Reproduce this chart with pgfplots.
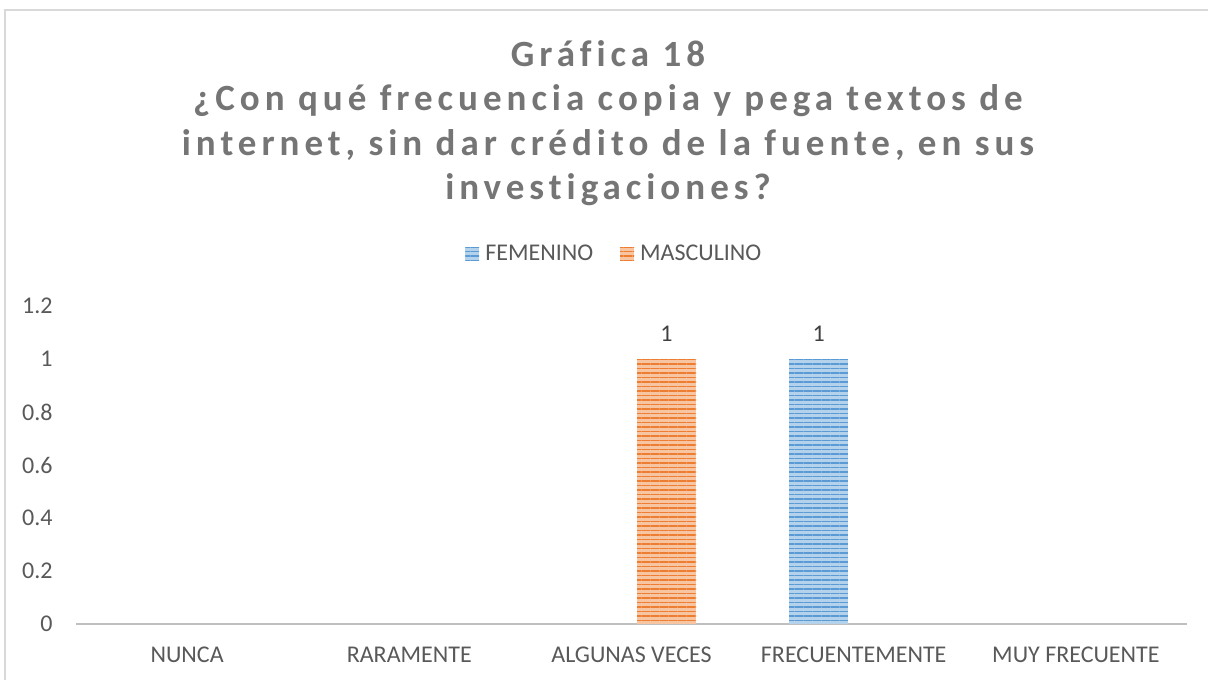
\documentclass[border=0pt]{standalone}
\usepackage{pgfplots}
\pgfplotsset{compat=1.18}
\usepackage{fontspec}
\setmainfont{Carlito}
\newfontfamily\titlefont[LetterSpace=13.5, Ligatures={NoCommon}]{Carlito}
\usetikzlibrary{patterns.meta}
\definecolor{txt}{HTML}{595959}
\definecolor{ttl}{HTML}{757575}
\definecolor{lbl}{HTML}{404040}
\definecolor{bblue}{HTML}{5B9BD5}
\definecolor{borange}{HTML}{ED7D31}
\definecolor{axisgray}{HTML}{BFBFBF}
\definecolor{frame}{HTML}{D9D9D9}
\begin{document}
\begin{tikzpicture}
\useasboundingbox (0,0) rectangle (604pt,339.5pt);
\fill[white] (0,0) rectangle (604pt,339.5pt);
\draw[frame, line width=1pt] (2.5pt,-2pt) -- (2.5pt,334.5pt) -- (606pt,334.5pt);
\begin{axis}[
  at={(38pt,27.5pt)}, anchor=south west,
  scale only axis,
  width=555.5pt, height=159pt,
  xmin=-0.5, xmax=4.5, ymin=0, ymax=1.2,
  ybar=5.5pt, bar width=29.5pt,
  axis x line=bottom, axis y line=left,
  axis line style={-},
  x axis line style={draw=axisgray, line width=1.3pt},
  y axis line style={draw=none},
  major tick length=0pt,
  xtick={0,1,2,3,4},
  xticklabels={NUNCA,RARAMENTE,ALGUNAS VECES,FRECUENTEMENTE,MUY FRECUENTE},
  ytick={0,0.2,0.4,0.6,0.8,1,1.2},
  yticklabels={0,0.2,0.4,0.6,0.8,1,1.2},
  /pgf/number format/assume math mode=true,
  tick label style={font=\fontsize{12}{14}\selectfont, text=txt},
  xticklabel style={inner sep=0pt, anchor=north, yshift=-11.5pt},
  yticklabel style={inner sep=0pt, anchor=east, xshift=-11.5pt},
  clip=false,
  nodes near coords,
  every node near coord/.append style={font=\fontsize{12}{14}\selectfont, text=lbl, yshift=5pt},
  legend columns=2,
  legend style={at={(0.485,1.1635)}, anchor=center, draw=none, fill=none,
    font=\fontsize{12}{14}\selectfont, text=txt, inner sep=0pt,
    nodes={inner sep=1.5pt},
    /tikz/every odd column/.append style={column sep=1.5pt},
    /tikz/every even column/.append style={column sep=12pt}},
  legend image code/.code={\draw[#1, draw=none] (0pt,-3.5pt) rectangle (7pt,3.5pt);},
]
\addplot[draw=none, fill=bblue!45!white,
  postaction={pattern={Lines[angle=0,distance=2.25pt,line width=0.9pt]}, pattern color=bblue}]
  coordinates {(3,1)};
\addlegendentry{FEMENINO}
\addplot[draw=none, fill=borange!45!white,
  postaction={pattern={Lines[angle=0,distance=2.25pt,line width=0.9pt]}, pattern color=borange}]
  coordinates {(2,1)};
\addlegendentry{MASCULINO}
\end{axis}
\begin{scope}[every node/.style={text=ttl, font=\titlefont\bfseries\fontsize{18.5}{22}\selectfont, anchor=base}]
\node at (304pt,306pt) {Gráfica 18};
\node at (304pt,284pt) {¿Con qué frecuencia copia y pega textos de};
\node at (304pt,261.5pt) {internet, sin dar crédito de la fuente, en sus};
\node at (304pt,239.5pt) {investigaciones?};
\end{scope}
\end{tikzpicture}
\end{document}
